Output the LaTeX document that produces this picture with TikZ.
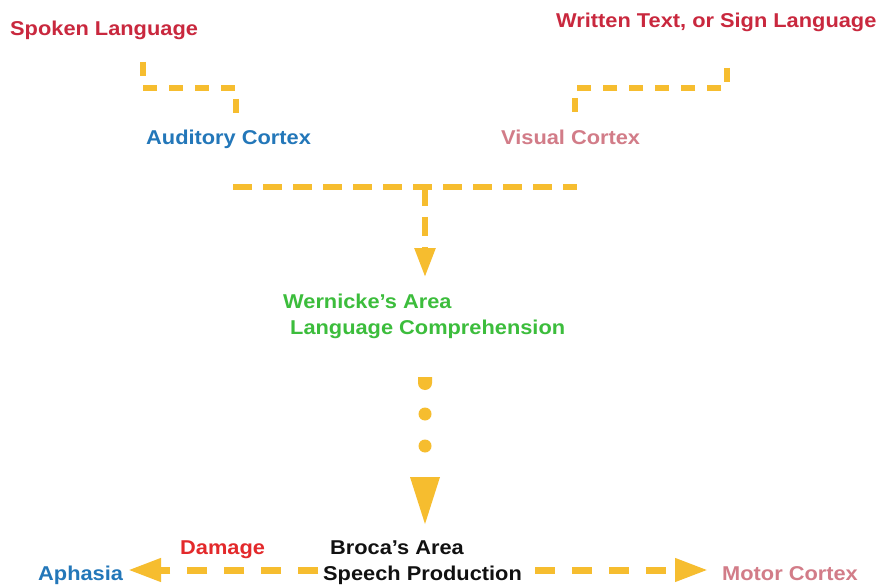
\documentclass[tikz,border=0pt]{standalone}
\usepackage{fontspec}
\setmainfont{Liberation Sans}[FakeStretch=1.09]
\usetikzlibrary{arrows.meta}
\definecolor{yel}{HTML}{F6BD2F}
\definecolor{crim}{HTML}{C9283E}
\definecolor{dmg}{HTML}{E3292B}
\definecolor{blu}{HTML}{2377B9}
\definecolor{pnk}{HTML}{D27C88}
\definecolor{grn}{HTML}{3CBD3C}
\definecolor{blk}{HTML}{111111}
\begin{document}
\begin{tikzpicture}[x=1pt,y=-1pt,
  lbl/.style={anchor=base west, inner sep=0pt, font=\fontsize{20}{24}\selectfont\bfseries},
  dashy/.style={draw=yel, line width=5.5pt, dash pattern=on 14pt off 12pt},
  middash/.style={draw=yel, line width=5.5pt, dash pattern=on 19pt off 11pt},
  bigdash/.style={draw=yel, line width=7pt, dash pattern=on 20pt off 17pt},
  tipsmall/.style={-{Triangle[length=29pt,width=20pt]}},
  tipbig/.style={-{Triangle[length=33pt,width=22pt]}}]
\useasboundingbox (0,0) rectangle (885,585);
\fill[white] (0,0) rectangle (885,585);

% labels
\node[lbl, text=crim] (spoken) at (10,36) {Spoken Language};
\node[lbl, text=crim] (written) at (556,28) {Written Text, or Sign Language};
\node[lbl, text=blu] (auditory) at (146,145) {Auditory Cortex};
\node[lbl, text=pnk] (visual) at (501,145) {Visual Cortex};
\node[lbl, text=grn] (wern1) at (283,308) {Wernicke's Area};
\node[lbl, text=grn] (wern2) at (290,334) {Language Comprehension};
\node[lbl, text=dmg] (damage) at (180,554) {Damage};
\node[lbl, text=blk] (broca1) at (330,554) {Broca's Area};
\node[lbl, text=blk] (broca2) at (323,580) {Speech Production};
\node[lbl, text=blu] (aphasia) at (38,580) {Aphasia};
\node[lbl, text=pnk] (motor) at (722,580) {Motor Cortex};

% coordinates
\coordinate (s1) at (143,62);
\coordinate (s2) at (236,88);
\coordinate (a1) at (236,116);
\coordinate (w1) at (727,68);
\coordinate (w2) at (575,88);
\coordinate (v1) at (575,117);
\coordinate (h1) at (233,187);
\coordinate (h2) at (577,187);
\coordinate (hj) at (425,187);
\coordinate (wt) at (425,277);
\coordinate (bt) at (425,524);
\coordinate (bl) at (318,570);
\coordinate (br) at (535,570);
\coordinate (apt) at (128,570);
\coordinate (mot) at (708,570);

% top connectors
\draw[dashy] (s1) |- (s2) -- (a1);
\draw[dashy] (w1) |- (w2) -- (v1);
\draw[middash] (h1) -- (h2);
\draw[middash, tipsmall] (hj) -- (wt);

% dotted connector to Broca
\fill[yel] (418,377) -- (432,377) -- (432,383) arc[start angle=0, end angle=-180, radius=7pt] -- cycle;
\fill[yel] (425,414) circle[radius=6.5pt];
\fill[yel] (425,446) circle[radius=6.5pt];
\fill[yel] (410,477) -- (440,477) -- (bt) -- cycle;

% bottom connectors
\draw[bigdash, tipbig] (bl) -- (apt);
\draw[bigdash, tipbig] (br) -- (mot);
\end{tikzpicture}
\end{document}
